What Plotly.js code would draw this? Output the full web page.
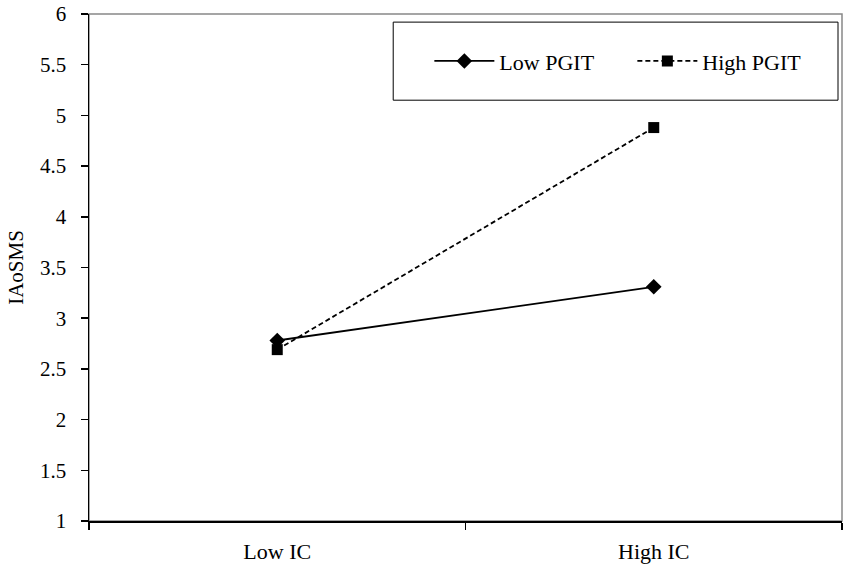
<!DOCTYPE html>
<html>
<head>
<meta charset="utf-8">
<script src="https://cdn.plot.ly/plotly-3.0.1.min.js"></script>
<style>html,body{margin:0;padding:0;background:#fff;}#chart{width:850px;height:571px;}</style>
</head>
<body>
<div id="chart"></div>
<script>
const categories = ["Low IC", "High IC"];
const lowPGIT = [2.78, 3.31];
const highPGIT = [2.69, 4.88];
const seriesNames = ["Low PGIT", "High PGIT"];

const font = {family: "'Liberation Serif', 'Times New Roman', Times, serif", color: "#000"};

const traces = [
  {
    x: categories, y: lowPGIT, name: seriesNames[0], type: "scatter", mode: "lines+markers",
    line: {color: "#000", width: 1.8},
    marker: {symbol: "diamond", size: 12, color: "#000"}
  },
  {
    x: categories, y: highPGIT, name: seriesNames[1], type: "scatter", mode: "lines+markers",
    line: {color: "#000", width: 1.8, dash: "5px,3px"},
    marker: {symbol: "square", size: 11, color: "#000"}
  }
];

const layout = {
  width: 850, height: 571,
  margin: {l: 89, r: 8, t: 14, b: 50, autoexpand: false},
  paper_bgcolor: "#fff", plot_bgcolor: "#fff",
  font: Object.assign({size: 20}, font),
  showlegend: true,
  legend: {
    orientation: "h", x: 0.452, xanchor: "left", y: 0.907, yanchor: "middle",
    bgcolor: "rgba(0,0,0,0)", borderwidth: 0,
    font: Object.assign({size: 22}, font),
    itemwidth: 60,
    entrywidth: 128, entrywidthmode: "pixels"
  },
  xaxis: {
    type: "category", tickson: "boundaries", range: [-0.5, 1.5],
    ticks: "outside", ticklen: 7, tickwidth: 1.5,
    tickcolor: "#000", showline: true, linecolor: "#000", linewidth: 1.5,
    showgrid: false, zeroline: false, fixedrange: true,
    ticklabelstandoff: 10,
    tickfont: Object.assign({size: 22}, font)
  },
  yaxis: {
    range: [1, 6], dtick: 0.5, tick0: 1, ticks: "outside", ticklen: 7, tickwidth: 1.5,
    tickcolor: "#000", showline: true, linecolor: "#000", linewidth: 1.5,
    showgrid: false, zeroline: false, fixedrange: true,
    ticklabelstandoff: 10,
    tickfont: Object.assign({size: 21}, font),
    title: {text: "IAoSMS", font: Object.assign({size: 21}, font), standoff: 10}
  },
  shapes: [
    {type: "rect", xref: "paper", yref: "paper", x0: 0, x1: 1, y0: 0, y1: 1,
     line: {color: "#888", width: 1.5}, layer: "below"},
    {type: "rect", xref: "paper", yref: "paper", x0: 0.404, x1: 0.9947, y0: 0.830, y1: 0.984,
     line: {color: "#000", width: 1}, fillcolor: "rgba(0,0,0,0)", layer: "below"}
  ]
};

Plotly.newPlot("chart", traces, layout, {displayModeBar: false, staticPlot: true});
</script>
</body>
</html>
